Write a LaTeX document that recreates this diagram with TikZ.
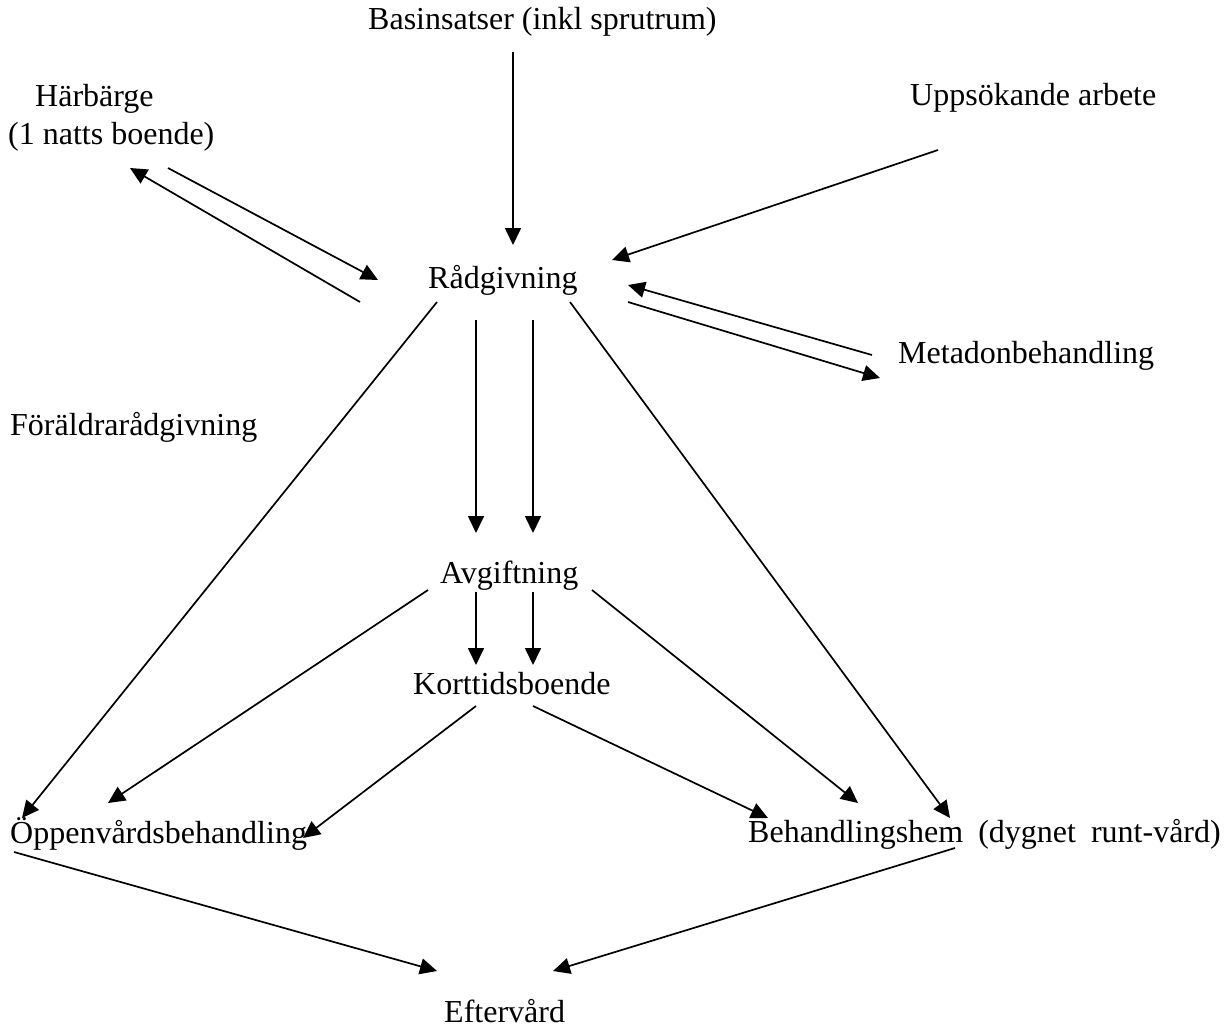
\documentclass[tikz,border=0pt]{standalone}
\usepackage{fontspec}
\setmainfont{Liberation Serif}
\usetikzlibrary{arrows.meta}

\begin{document}
\begin{tikzpicture}[x=1pt,y=-1pt,inner sep=0pt,
  lbl/.style={anchor=base west,font=\fontsize{32}{38}\selectfont},
  flow/.style={-{Triangle[length=17pt,width=16pt]},line width=1.7pt}]
  \useasboundingbox (0,0) rectangle (1232,1029);
  \node[lbl] (bas) at (368,29) {Basinsatser (inkl sprutrum)};
  \node[lbl] (harb) at (35,106) {Härbärge};
  \node[lbl] (natt) at (8,144) {(1 natts boende)};
  \node[lbl] (upps) at (910,105) {Uppsökande arbete};
  \node[lbl] (rad) at (428,288) {Rådgivning};
  \node[lbl] (meta) at (898,363) {Metadonbehandling};
  \node[lbl] (forald) at (10,435) {Föräldrarådgivning};
  \node[lbl] (avg) at (440,583) {Avgiftning};
  \node[lbl] (kort) at (413,694) {Korttidsboende};
  \node[lbl] (oppen) at (10,843) {Öppenvårdsbehandling};
  \node[lbl] (beh) at (748,842) {Behandlingshem\hspace{15pt}(dygnet\hspace{15pt}runt-vård)};
  \node[lbl] (efter) at (444,1022) {Eftervård};
  \draw[flow] ([shift={(145,23)}]bas.base west) -- ([shift={(85,-43)}]rad.base west);
  \draw[flow] ([shift={(160,24)}]natt.base west) -- ([shift={(-50,-8)}]rad.base west);
  \draw[flow] ([shift={(-68,14)}]rad.base west) -- ([shift={(122,24)}]natt.base west);
  \draw[flow] ([shift={(28,45)}]upps.base west) -- ([shift={(184,-28)}]rad.base west);
  \draw[flow] ([shift={(-26,-8)}]meta.base west) -- ([shift={(200,-3)}]rad.base west);
  \draw[flow] ([shift={(200,14)}]rad.base west) -- ([shift={(-18,15)}]meta.base west);
  \draw[flow] ([shift={(48,32)}]rad.base west) -- ([shift={(36,-50)}]avg.base west);
  \draw[flow] ([shift={(105,32)}]rad.base west) -- ([shift={(93,-50)}]avg.base west);
  \draw[flow] ([shift={(9,14)}]rad.base west) -- ([shift={(12,-25)}]oppen.base west);
  \draw[flow] ([shift={(142,14)}]rad.base west) -- ([shift={(202,-24)}]beh.base west);
  \draw[flow] ([shift={(-12,7)}]avg.base west) -- ([shift={(98,-40)}]oppen.base west);
  \draw[flow] ([shift={(36,9)}]avg.base west) -- ([shift={(63,-29)}]kort.base west);
  \draw[flow] ([shift={(93,9)}]avg.base west) -- ([shift={(120,-29)}]kort.base west);
  \draw[flow] ([shift={(152,7)}]avg.base west) -- ([shift={(110,-39)}]beh.base west);
  \draw[flow] ([shift={(63,12)}]kort.base west) -- ([shift={(293,-5)}]oppen.base west);
  \draw[flow] ([shift={(120,12)}]kort.base west) -- ([shift={(20,-24)}]beh.base west);
  \draw[flow] ([shift={(4,9)}]oppen.base west) -- ([shift={(-7,-51)}]efter.base west);
  \draw[flow] ([shift={(207,6)}]beh.base west) -- ([shift={(109,-51)}]efter.base west);
\end{tikzpicture}
\end{document}
